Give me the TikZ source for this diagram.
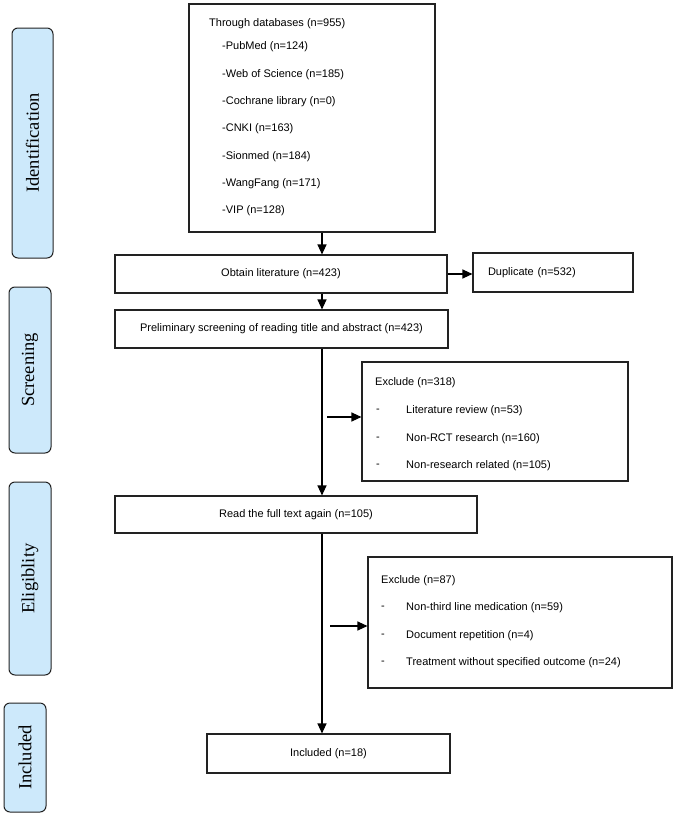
\documentclass[tikz,border=0pt]{standalone}
\usepackage{fontspec}
\setmainfont{Liberation Sans}
\newfontfamily\labelserif{Liberation Serif}
\usetikzlibrary{arrows.meta}
\definecolor{sidefill}{HTML}{CDE9FB}
\definecolor{edge}{HTML}{222222}
\begin{document}
\begin{tikzpicture}[x=1pt,y=-1pt,
  box/.style={draw=edge, line width=1.1pt, fill=white, inner sep=0pt, font=\fontsize{11}{13}\selectfont},
  side/.style={draw=edge, line width=1pt, fill=sidefill, rounded corners=6pt, inner sep=0pt},
  sidetxt/.style={rotate=90, font=\labelserif\fontsize{18.5}{20}\selectfont},
  txt/.style={anchor=west, inner sep=0pt, font=\fontsize{11}{13}\selectfont},
  arr/.style={line width=1.1pt, draw=black, -{Triangle[length=10pt,width=9pt]}}]
\useasboundingbox (0,0) rectangle (677,817);
% side labels
\node[side, minimum width=41pt, minimum height=230pt] (sident) at (32.5,143) {};
\node[sidetxt] (tident) at (sident.center) {Identification};
\node[side, minimum width=42pt, minimum height=166pt] (sscreen) at (30,370) {};
\node[sidetxt] (tscreen) at (sscreen.center) {Screening};
\node[side, minimum width=42pt, minimum height=193pt] (selig) at (30,578.5) {};
\node[sidetxt] (telig) at (selig.center) {Eligiblity};
\node[side, minimum width=42pt, minimum height=109pt] (sincl) at (25,757.5) {};
\node[sidetxt] (tincl) at (sincl.center) {Included};
% main boxes
\node[box, minimum width=246pt, minimum height=228pt] (db) at (312,118) {};
\node[txt] (d0) at (209,24) {Through databases (n=955)};
\node[txt] (d1) at (222,47) {-PubMed (n=124)};
\node[txt] (d2) at (222,74.5) {-Web of Science (n=185)};
\node[txt] (d3) at (222,102) {-Cochrane library (n=0)};
\node[txt] (d4) at (222,129) {-CNKI (n=163)};
\node[txt] (d5) at (222,156.5) {-Sionmed (n=184)};
\node[txt] (d6) at (222,184) {-WangFang (n=171)};
\node[txt] (d7) at (222,211) {-VIP (n=128)};
\node[box, minimum width=332pt, minimum height=38pt] (obtain) at (281,274) {Obtain literature (n=423)};
\node[box, minimum width=160pt, minimum height=39pt, text width=130pt, align=left, inner xsep=15pt] (dup) at (553,272.5) {Duplicate (n=532)};
\node[box, minimum width=333pt, minimum height=38pt] (prelim) at (281.5,329) {Preliminary screening of reading title and abstract (n=423)};
\node[box, minimum width=266pt, minimum height=119pt] (exc1) at (495,421.5) {};
\node[txt] (e10) at (375,383) {Exclude (n=318)};
\node[txt] (e1a) at (376,411) {-};
\node[txt] (e11) at (406,411) {Literature review (n=53)};
\node[txt] (e1b) at (376,439) {-};
\node[txt] (e12) at (406,439) {Non-RCT research (n=160)};
\node[txt] (e1c) at (376,466) {-};
\node[txt] (e13) at (406,466) {Non-research related (n=105)};
\node[box, minimum width=362pt, minimum height=37pt] (read) at (296,514.5) {Read the full text again (n=105)};
\node[box, minimum width=304pt, minimum height=131pt] (exc2) at (520,622.5) {};
\node[txt] (e20) at (381,581) {Exclude (n=87)};
\node[txt] (e2a) at (381,608) {-};
\node[txt] (e21) at (406,608) {Non-third line medication (n=59)};
\node[txt] (e2b) at (381,636) {-};
\node[txt] (e22) at (406,636) {Document repetition (n=4)};
\node[txt] (e2c) at (381,663) {-};
\node[txt] (e23) at (406,663) {Treatment without specified outcome (n=24)};
\node[box, minimum width=243pt, minimum height=39pt] (incl) at (328.5,753.5) {Included (n=18)};
% connectors
\coordinate (ax) at (322,0);
\coordinate (b1) at (327,417);
\coordinate (b2) at (330,626);
\draw[arr] (db.south -| ax) -- (obtain.north -| ax);
\draw[arr] (obtain.east) -- (dup.west |- obtain.east);
\draw[arr] (obtain.south -| ax) -- (prelim.north -| ax);
\draw[arr] (prelim.south -| ax) -- (read.north -| ax);
\draw[arr] (b1) -- (exc1.west |- b1);
\draw[arr] (read.south -| ax) -- (incl.north -| ax);
\draw[arr] (b2) -- (exc2.west |- b2);
\end{tikzpicture}
\end{document}
